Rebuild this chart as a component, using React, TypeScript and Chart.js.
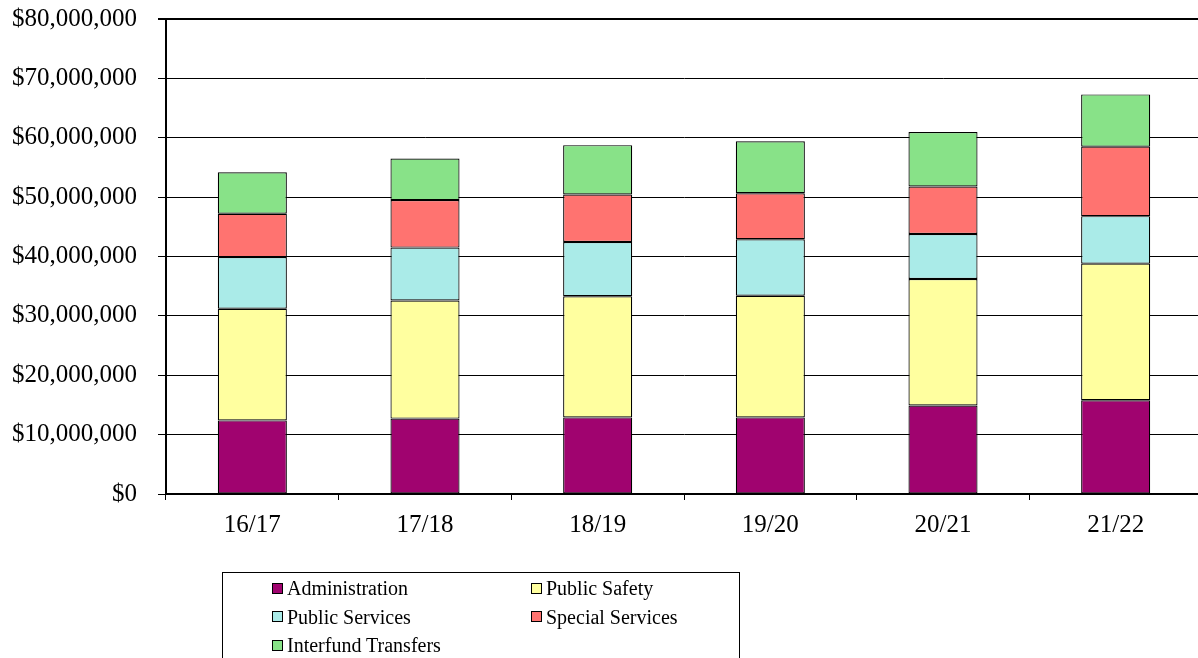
import React, { useEffect, useRef } from "react";
import { Chart, registerables } from "chart.js";

Chart.register(...registerables);

// Fiscal years on the category axis
const fiscalYears = ["16/17", "17/18", "18/19", "19/20", "20/21", "21/22"];

// Expenditure by department (dollars)
const administration = [12400000, 12700000, 12900000, 12900000, 14900000, 15800000];
const publicSafety = [18800000, 19900000, 20400000, 20500000, 21300000, 23000000];
const publicServices = [8700000, 8900000, 9150000, 9500000, 7600000, 8000000];
const specialServices = [7300000, 8000000, 8000000, 7750000, 8000000, 11700000];
const interfundTransfers = [7000000, 7000000, 8300000, 8750000, 9150000, 8800000];

// Value axis ticks
const yMax = 80000000;
const yStep = 10000000;

const seriesNames = [
  "Administration",
  "Public Safety",
  "Public Services",
  "Special Services",
  "Interfund Transfers",
];
const seriesColors = ["#A0036F", "#FFFF9F", "#AAEBE8", "#FF7370", "#88E288"];
const seriesValues = [
  administration,
  publicSafety,
  publicServices,
  specialServices,
  interfundTransfers,
];

const SERIF = "'Liberation Serif', 'Times New Roman', Times, serif";
const CANVAS_W = 1210;
const CANVAS_H = 658;
const PLOT_TOP = 19;
const PLOT_BOTTOM = 494;
const PLOT_LEFT = 166;

const formatDollars = (v: number) => "$" + Math.round(v).toLocaleString("en-US");

export default function App() {
  const canvasRef = useRef<HTMLCanvasElement | null>(null);

  useEffect(() => {
    if (!canvasRef.current) return;
    const chart = new Chart(canvasRef.current, {
      type: "bar",
      data: {
        labels: fiscalYears,
        datasets: seriesNames.map((name, i) => ({
          label: name,
          data: seriesValues[i],
          backgroundColor: seriesColors[i],
          borderColor: "#000",
          borderWidth: 1.2,
          borderSkipped: false,
          categoryPercentage: 1,
          barPercentage: 0.4,
          stack: "total",
        })),
      },
      options: {
        responsive: false,
        animation: false,
        layout: { padding: { top: PLOT_TOP, right: 8, bottom: 0, left: 0 } },
        plugins: {
          legend: { display: false },
          tooltip: { enabled: false },
        },
        scales: {
          x: {
            stacked: true,
            offset: true,
            afterFit: (scale: any) => {
              scale.height = CANVAS_H - PLOT_BOTTOM;
              scale.paddingLeft = 0;
              scale.paddingRight = 0;
            },
            grid: {
              display: true,
              offset: true,
              drawOnChartArea: false,
              drawTicks: true,
              tickLength: 6,
              color: "#000",
              tickColor: "#000",
              lineWidth: 1,
            },
            border: { display: true, color: "#000", width: 2 },
            ticks: {
              color: "#000",
              padding: 10,
              font: { family: SERIF, size: 25 },
            },
          },
          y: {
            stacked: true,
            min: 0,
            max: yMax,
            afterFit: (scale: any) => {
              scale.width = PLOT_LEFT;
              scale.paddingTop = 0;
              scale.paddingBottom = 0;
            },
            grid: {
              color: "#000",
              tickColor: "#000",
              drawTicks: true,
              tickLength: 8,
              lineWidth: (ctx: any) => (ctx.tick && ctx.tick.value === yMax ? 2 : 1),
            },
            border: { display: true, color: "#000", width: 2 },
            ticks: {
              stepSize: yStep,
              color: "#000",
              padding: 21,
              font: { family: SERIF, size: 25 },
              callback: (v: any) => formatDollars(Number(v)),
            },
          },
        },
      },
    });
    return () => chart.destroy();
  }, []);

  // Legend rows: two columns, filled row by row
  const colX = [50, 309];
  const rowTop = [2, 30.5, 59];

  return (
    <div
      style={{
        position: "absolute",
        left: 0,
        top: 0,
        width: 1198,
        height: 658,
        overflow: "hidden",
        background: "#fff",
      }}
    >
      <canvas
        ref={canvasRef}
        width={CANVAS_W}
        height={CANVAS_H}
        style={{ position: "absolute", left: 0, top: 0, width: CANVAS_W, height: CANVAS_H }}
      />
      <div
        style={{
          position: "absolute",
          left: 222,
          top: 572,
          width: 518,
          height: 110,
          border: "1px solid #000",
          boxSizing: "border-box",
          fontFamily: SERIF,
          fontSize: 20,
          color: "#000",
        }}
      >
        {seriesNames.map((name, i) => (
          <div
            key={name}
            style={{
              position: "absolute",
              left: colX[i % 2] - 1,
              top: rowTop[Math.floor(i / 2)] - 1,
              height: 28,
              lineHeight: "28px",
              whiteSpace: "nowrap",
              display: "flex",
              alignItems: "center",
            }}
          >
            <span
              style={{
                display: "inline-block",
                width: 9,
                height: 9,
                border: "1px solid #000",
                background: seriesColors[i],
                marginRight: 4,
              }}
            />
            <span>{name}</span>
          </div>
        ))}
      </div>
    </div>
  );
}
